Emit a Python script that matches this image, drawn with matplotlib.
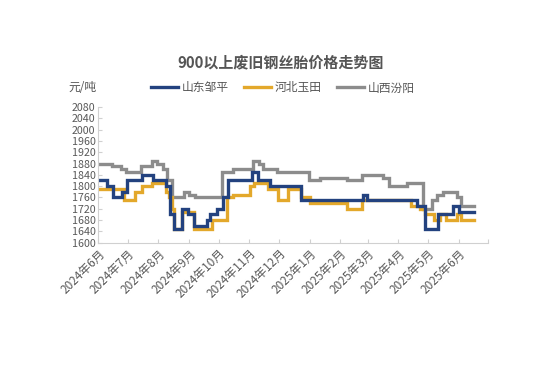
import matplotlib
matplotlib.use("Agg")
import matplotlib.pyplot as plt
import pandas as pd

plt.rcParams['font.family'] = ['Noto Sans CJK SC', 'DejaVu Sans']

TITLE = "900以上废旧钢丝胎价格走势图"
END_DATE = "2025-06-17"

# change points: date where a price starts, price (元/吨)
zouping_dates = ["2024-06-01", "2024-06-10", "2024-06-16", "2024-06-25", "2024-06-30",
                 "2024-07-15", "2024-07-26", "2024-08-09", "2024-08-13", "2024-08-17",
                 "2024-08-25", "2024-08-31", "2024-09-06", "2024-09-19", "2024-09-22",
                 "2024-09-29", "2024-10-05", "2024-10-10", "2024-11-04", "2024-11-10",
                 "2024-11-22", "2024-12-23", "2025-02-24", "2025-02-28", "2025-04-20",
                 "2025-04-28", "2025-05-11", "2025-05-26", "2025-06-01"]
zouping_vals = [1820, 1800, 1760, 1780, 1820,
                1840, 1820, 1800, 1700, 1650,
                1720, 1700, 1660, 1680, 1700,
                1720, 1760, 1820, 1850, 1820,
                1800, 1750, 1770, 1750, 1730,
                1650, 1700, 1730, 1710]

yutian_dates = ["2024-06-01", "2024-06-27", "2024-07-08", "2024-07-15", "2024-07-25",
                "2024-08-09", "2024-08-12", "2024-08-15", "2024-08-17", "2024-08-25",
                "2024-09-06", "2024-09-24", "2024-10-09", "2024-10-15", "2024-11-02",
                "2024-11-06", "2024-11-20", "2024-11-30", "2024-12-10", "2024-12-23",
                "2025-01-01", "2025-02-08", "2025-02-23", "2025-04-14", "2025-04-23",
                "2025-04-28", "2025-05-07", "2025-05-13", "2025-05-19", "2025-05-30",
                "2025-06-03"]
yutian_vals = [1790, 1750, 1780, 1800, 1810,
               1780, 1760, 1720, 1650, 1710,
               1650, 1680, 1760, 1770, 1800,
               1810, 1790, 1750, 1790, 1760,
               1740, 1720, 1750, 1730, 1720,
               1700, 1680, 1700, 1680, 1700,
               1680]

fenyang_dates = ["2024-06-01", "2024-06-15", "2024-06-24", "2024-06-29", "2024-07-14",
                 "2024-07-25", "2024-07-30", "2024-08-06", "2024-08-10", "2024-08-15",
                 "2024-08-27", "2024-09-01", "2024-09-07", "2024-10-04", "2024-10-15",
                 "2024-11-05", "2024-11-11", "2024-11-15", "2024-11-29", "2024-12-31",
                 "2025-01-12", "2025-02-08", "2025-02-23", "2025-03-16", "2025-03-23",
                 "2025-04-10", "2025-04-26", "2025-05-05", "2025-05-10", "2025-05-16",
                 "2025-05-30", "2025-06-03"]
fenyang_vals = [1880, 1870, 1860, 1850, 1870,
                1890, 1880, 1860, 1820, 1760,
                1780, 1770, 1760, 1850, 1860,
                1890, 1880, 1860, 1850, 1820,
                1830, 1820, 1840, 1830, 1800,
                1810, 1720, 1750, 1770, 1780,
                1760, 1730]

series = [
    ("山东邹平", zouping_dates, zouping_vals, "#23427f"),
    ("河北玉田", yutian_dates, yutian_vals, "#e3a82b"),
    ("山西汾阳", fenyang_dates, fenyang_vals, "#8c8c8c"),
]

months = pd.date_range("2024-06-01", "2025-07-01", freq="MS")
month_labels = [f"{d.year}年{d.month}月" for d in months[:-1]] + [""]


def main():
    fig = plt.figure(figsize=(5.4, 3.65), dpi=100)
    ax = fig.add_axes([0.182, 0.335, 0.722, 0.372])

    # grey first so the other two sit on top
    for name, dates, vals, color in reversed(series):
        d = pd.to_datetime(dates + [END_DATE])
        v = vals + [vals[-1]]
        ax.plot(d, v, drawstyle="steps-post", color=color, lw=2.4,
                label=name, solid_joinstyle="miter")

    ax.set_ylim(1600, 2080)
    ax.set_yticks(range(1600, 2081, 40))
    ax.set_xlim(months[0], months[-1])
    ax.set_xticks(months)
    ax.set_xticklabels(month_labels, rotation=45, ha="right", va="top",
                       rotation_mode="anchor")

    for s in ["top", "right"]:
        ax.spines[s].set_visible(False)
    for s in ["left", "bottom"]:
        ax.spines[s].set_color("#d0d0d0")
    ax.tick_params(axis="both", direction="in", length=3, color="#d0d0d0",
                   labelcolor="#595959")
    ax.tick_params(axis="y", labelsize=7.7, pad=2)
    ax.tick_params(axis="x", labelsize=8.5, pad=3)

    fig.text(0.52, 0.828, TITLE, ha="center", va="center", fontsize=10.8,
             fontweight="bold", color="#555555")
    fig.text(0.153, 0.759, "元/吨", ha="center", va="center", fontsize=8.5,
             color="#555555")

    handles, labels = ax.get_legend_handles_labels()
    fig.legend(handles[::-1], labels[::-1], loc="center", ncol=3,
               bbox_to_anchor=(0.524, 0.759), frameon=False, fontsize=8.5,
               handlelength=2.3, handletextpad=0.3, columnspacing=1.3,
               labelcolor="#555555")

    fig.savefig("out.png", dpi=100, facecolor="white")


if __name__ == '__main__':
    main()
